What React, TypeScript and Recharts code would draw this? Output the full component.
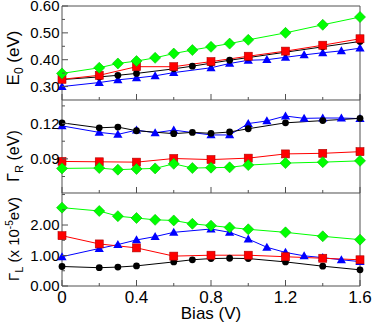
import React from 'react';
import { LineChart, Line, XAxis, YAxis, Label } from 'recharts';

const FONT = '"Liberation Sans", Arial, Helvetica, sans-serif';
const AXIS = '#505050';

// bias values (V) for each series
const biasBlack = [0, 0.2, 0.3, 0.4, 0.6, 0.7, 0.8, 0.9, 1.0, 1.2, 1.4, 1.6];
const biasRed = [0, 0.2, 0.4, 0.6, 0.8, 1.0, 1.2, 1.4, 1.6];
const biasGreen = [0, 0.2, 0.3, 0.4, 0.5, 0.6, 0.7, 0.8, 0.9, 1.0, 1.2, 1.4, 1.6];
const biasBlue = [0, 0.2, 0.3, 0.4, 0.5, 0.6, 0.8, 0.9, 1.0, 1.1, 1.2, 1.3, 1.4, 1.5, 1.6];

// E0 (eV)
const e0Black = [0.326, 0.336, 0.342, 0.349, 0.366, 0.376, 0.387, 0.398, 0.408, 0.428, 0.448, 0.468];
const e0Red = [0.327, 0.342, 0.374, 0.374, 0.393, 0.413, 0.432, 0.454, 0.478];
const e0Green = [0.349, 0.37, 0.386, 0.395, 0.407, 0.423, 0.436, 0.448, 0.46, 0.474, 0.5, 0.53, 0.559];
const e0Blue = [0.3, 0.315, 0.325, 0.332, 0.34, 0.352, 0.37, 0.386, 0.398, 0.4, 0.409, 0.418, 0.426, 0.433, 0.443];

// Gamma_R (eV)
const grBlack = [0.1206, 0.1164, 0.117, 0.1139, 0.1114, 0.1125, 0.1117, 0.1128, 0.1156, 0.1206, 0.1225, 0.1244];
const grRed = [0.0878, 0.0875, 0.0872, 0.0903, 0.0894, 0.0906, 0.0942, 0.0947, 0.0961];
const grGreen = [0.0819, 0.0822, 0.0808, 0.0814, 0.0819, 0.0858, 0.0822, 0.0825, 0.0828, 0.0847, 0.0864, 0.0872, 0.0883];
const grBlue = [0.118, 0.1125, 0.1108, 0.1144, 0.1122, 0.1144, 0.1103, 0.1103, 0.12, 0.1222, 0.1264, 0.1244, 0.1247, 0.1247, 0.1242];

// Gamma_L (x 10^-5 eV)
const glBlack = [0.64, 0.6, 0.62, 0.66, 0.79, 0.86, 0.9, 0.91, 0.9, 0.79, 0.65, 0.53];
const glRed = [1.65, 1.38, 1.25, 0.98, 1.01, 1.01, 0.96, 0.91, 0.86];
const glGreen = [2.57, 2.46, 2.29, 2.23, 2.17, 2.15, 2.04, 1.98, 1.92, 1.86, 1.76, 1.63, 1.52];
const glBlue = [0.96, 1.23, 1.36, 1.51, 1.62, 1.76, 1.87, 1.76, 1.54, 1.27, 1.1, 0.99, 0.93, 0.86, 0.8];

const xTicks = [0, 0.2, 0.4, 0.6, 0.8, 1.0, 1.2, 1.4, 1.6];
const xMajors = [0, 0.4, 0.8, 1.2, 1.6];

const pts = (xs: number[], ys: number[]) => xs.map((x, i) => ({ x, y: ys[i] }));

const isIn = (list: number[], v: number) => list.some((m) => Math.abs(m - v) < 1e-6);

// inward tick marks (long for major values), with optional label
function makeTick(side: string, majors: number[], fmt?: (v: number) => string) {
  return (p: any) => {
    const x = Number(p.x);
    const y = Number(p.y);
    const v = Number(p.payload.value);
    const major = isIn(majors, v);
    const len = major ? 6 : 3;
    let x2 = x;
    let y2 = y;
    if (side === 'left') x2 = x + len;
    if (side === 'right') x2 = x - len;
    if (side === 'bottom') y2 = y - len;
    if (side === 'top') y2 = y + len;
    let text = null;
    if (fmt && major) {
      if (side === 'left') {
        text = (
          <text x={x - 2.5} y={y + 5.2} textAnchor="end" fontSize={15} fontFamily={FONT} fill="#000">
            {fmt(v)}
          </text>
        );
      } else {
        text = (
          <text x={x} y={y + 17} textAnchor="middle" fontSize={17} fontFamily={FONT} fill="#000">
            {fmt(v)}
          </text>
        );
      }
    }
    return (
      <g>
        <line x1={x} y1={y} x2={x2} y2={y2} stroke={AXIS} strokeWidth={1} />
        {text}
      </g>
    );
  };
}

const diamond = (p: any) => {
  const { cx, cy, index } = p;
  const r = 5.5;
  return (
    <polygon
      key={`d${index}`}
      points={`${cx},${cy - r} ${cx + r},${cy} ${cx},${cy + r} ${cx - r},${cy}`}
      fill="#00ff00"
      stroke="#00c000"
      strokeWidth={0.6}
    />
  );
};
const square = (p: any) => {
  const { cx, cy, index } = p;
  return <rect key={`s${index}`} x={cx - 4} y={cy - 4} width={8} height={8} fill="#ff0000" stroke="#b00000" strokeWidth={0.6} />;
};
const circle = (p: any) => {
  const { cx, cy, index } = p;
  return <circle key={`c${index}`} cx={cx} cy={cy} r={3.4} fill="#000" />;
};
const triangle = (p: any) => {
  const { cx, cy, index } = p;
  return (
    <polygon
      key={`t${index}`}
      points={`${cx},${cy - 4.6} ${cx + 4.6},${cy + 3.4} ${cx - 4.6},${cy + 3.4}`}
      fill="#0000ff"
    />
  );
};

type Series = { data: { x: number; y: number }[]; color: string; dot: (p: any) => any };

// y labels, positioned in each panel's own coordinates
const yLabelE0 = () => {
  const cx = 18.5;
  const cy = 58;
  return (
    <text x={cx} y={cy} transform={`rotate(-90, ${cx}, ${cy})`} textAnchor="middle" fontSize={17} fontFamily={FONT} fill="#000">
      E<tspan fontSize={12} dy={4}>0</tspan>
      <tspan dy={-4}> (eV)</tspan>
    </text>
  );
};
const yLabelGR = () => {
  const cx = 18.5;
  const cy = 56;
  return (
    <text x={cx} y={cy} transform={`rotate(-90, ${cx}, ${cy})`} textAnchor="middle" fontSize={16} fontFamily={FONT} fill="#000">
      Γ<tspan fontSize={11} dy={4}>R</tspan>
      <tspan dy={-4}> (eV)</tspan>
    </text>
  );
};
const yLabelGL = () => {
  const cx = 18.5;
  const cy = 46;
  return (
    <text x={cx} y={cy} transform={`rotate(-90, ${cx}, ${cy})`} textAnchor="middle" fontSize={15} fontFamily={FONT} fill="#000">
      Γ<tspan fontSize={11} dy={4}>L</tspan>
      <tspan dy={-4}> (x 10</tspan>
      <tspan fontSize={10} dy={-6}>-5</tspan>
      <tspan dy={6}>eV)</tspan>
    </text>
  );
};
const xLabel = () => (
  <text x={211} y={125.5} textAnchor="middle" fontSize={17} fontFamily={FONT} fill="#000">
    Bias (V)
  </text>
);

// an axis of zero size is not drawn, so thin ones get a tiny height
const THIN = 0.01;

function Panel(props: {
  top: number;
  height: number;
  marginTop: number;
  xHeight: number;
  domain: [number, number];
  yTicks: number[];
  yMajors: number[];
  series: Series[];
  showX: boolean;
  yLabel: () => any;
}) {
  const { top, height, marginTop, xHeight, domain, yTicks, yMajors, series, showX, yLabel } = props;
  return (
    <div style={{ position: 'absolute', left: 0, top }}>
      <LineChart width={374} height={height} margin={{ top: marginTop, right: 0, bottom: 0, left: 0 }}>
        <XAxis
          xAxisId="b"
          type="number"
          dataKey="x"
          domain={[0, 1.6]}
          ticks={xTicks}
          interval={0}
          height={xHeight}
          tickSize={0}
          tickMargin={0}
          tickLine={false}
          axisLine={{ stroke: AXIS, strokeWidth: 1 }}
          tick={makeTick('bottom', xMajors, showX ? (v) => (v === 0 ? '0' : v.toFixed(1)) : undefined)}
        >
          {showX && <Label content={xLabel} />}
        </XAxis>
        <XAxis
          xAxisId="t"
          orientation="top"
          type="number"
          dataKey="x"
          domain={[0, 1.6]}
          ticks={xTicks}
          interval={0}
          height={THIN}
          tickSize={0}
          tickMargin={0}
          tickLine={false}
          axisLine={{ stroke: AXIS, strokeWidth: 1 }}
          tick={makeTick('top', xMajors)}
        />
        <YAxis
          yAxisId="l"
          type="number"
          domain={domain}
          ticks={yTicks}
          interval={0}
          width={62}
          tickSize={0}
          tickMargin={0}
          tickLine={false}
          axisLine={{ stroke: AXIS, strokeWidth: 1 }}
          tick={makeTick('left', yMajors, (v) => v.toFixed(2))}
        >
          <Label content={yLabel} />
        </YAxis>
        <YAxis
          yAxisId="r"
          orientation="right"
          type="number"
          domain={domain}
          ticks={yTicks}
          interval={0}
          width={14}
          tickSize={0}
          tickMargin={0}
          tickLine={false}
          axisLine={{ stroke: AXIS, strokeWidth: 1 }}
          tick={makeTick('right', yMajors)}
        />
        {series.map((s, i) => (
          <Line
            key={i}
            xAxisId="b"
            yAxisId="l"
            data={s.data}
            dataKey="y"
            stroke={s.color}
            strokeWidth={1}
            dot={s.dot}
            activeDot={false}
            isAnimationActive={false}
          />
        ))}
      </LineChart>
    </div>
  );
}

export default function App() {
  const topSeries: Series[] = [
    { data: pts(biasBlue, e0Blue), color: '#0000ff', dot: triangle },
    { data: pts(biasBlack, e0Black), color: '#000000', dot: circle },
    { data: pts(biasRed, e0Red), color: '#ff0000', dot: square },
    { data: pts(biasGreen, e0Green), color: '#00ff00', dot: diamond },
  ];
  const midSeries: Series[] = [
    { data: pts(biasBlue, grBlue), color: '#0000ff', dot: triangle },
    { data: pts(biasBlack, grBlack), color: '#000000', dot: circle },
    { data: pts(biasRed, grRed), color: '#ff0000', dot: square },
    { data: pts(biasGreen, grGreen), color: '#00ff00', dot: diamond },
  ];
  const botSeries: Series[] = [
    { data: pts(biasBlue, glBlue), color: '#0000ff', dot: triangle },
    { data: pts(biasBlack, glBlack), color: '#000000', dot: circle },
    { data: pts(biasRed, glRed), color: '#ff0000', dot: square },
    { data: pts(biasGreen, glGreen), color: '#00ff00', dot: diamond },
  ];
  return (
    <div style={{ position: 'absolute', left: 0, top: 0, width: 374, height: 326, background: '#fff' }}>
      <Panel
        top={0}
        height={100}
        marginTop={6}
        xHeight={THIN}
        domain={[0.25, 0.6]}
        yTicks={[0.3, 0.35, 0.4, 0.45, 0.5, 0.55, 0.6]}
        yMajors={[0.3, 0.4, 0.5, 0.6]}
        series={topSeries}
        showX={false}
        yLabel={yLabelE0}
      />
      <Panel
        top={100}
        height={93}
        marginTop={0}
        xHeight={THIN}
        domain={[0.061, 0.14]}
        yTicks={[0.075, 0.09, 0.105, 0.12, 0.135]}
        yMajors={[0.09, 0.12]}
        series={midSeries}
        showX={false}
        yLabel={yLabelGR}
      />
      <Panel
        top={193}
        height={133}
        marginTop={0}
        xHeight={40}
        domain={[0, 3.05]}
        yTicks={[0, 0.5, 1, 1.5, 2, 2.5, 3]}
        yMajors={[0, 1, 2]}
        series={botSeries}
        showX={true}
        yLabel={yLabelGL}
      />
    </div>
  );
}
